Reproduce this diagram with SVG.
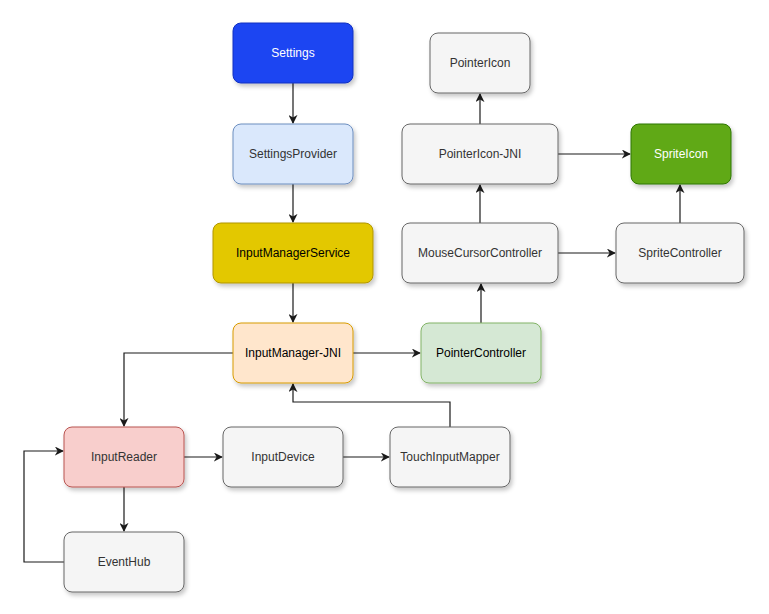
<svg xmlns="http://www.w3.org/2000/svg" width="769" height="614" viewBox="0 0 769 614">
<defs>
<filter id="sh" x="-20%" y="-20%" width="140%" height="150%">
<feDropShadow dx="2" dy="3" stdDeviation="2" flood-color="#000" flood-opacity="0.22"/>
</filter>
<marker id="arr" viewBox="0 0 10 10" refX="9" refY="5" markerWidth="9" markerHeight="9" markerUnits="userSpaceOnUse" orient="auto">
<path d="M0,0 L10,5 L0,10 L3,5 Z" fill="#1a1a1a"/>
</marker>
</defs>
<style>
rect{filter:url(#sh);stroke-width:1}
text{font-family:"Liberation Sans",Arial,Helvetica,sans-serif;font-size:12px;text-anchor:middle;dominant-baseline:central;fill:#333333}
.g rect{fill:#f5f5f5;stroke:#666666}
.c path{fill:none;stroke:#1a1a1a;stroke-width:1.2;marker-end:url(#arr)}
</style>
<rect width="769" height="614" fill="#ffffff" style="filter:none;stroke:none"/>
<g class="c" id="connectors">
<path d="M293,83 V123"/>
<path d="M293,184 V222"/>
<path d="M293,283 V322"/>
<path d="M353,353 H420"/>
<path d="M233,353 H124 V426"/>
<path d="M184,457 H222"/>
<path d="M343,457 H389"/>
<path d="M450,427 V402 H293 V384"/>
<path d="M124,487 V531"/>
<path d="M64,562 H24 V451 H63"/>
<path d="M481,323 V284"/>
<path d="M480,223 V185"/>
<path d="M480,124 V94"/>
<path d="M558,154 H630"/>
<path d="M558,253 H615"/>
<path d="M680,223 V185"/>
</g>
<g id="settings"><rect x="233" y="23" width="120" height="60" rx="8" fill="#1f45f2" stroke="#1030c0"/><text x="293" y="53" fill="#ffffff" style="fill:#ffffff">Settings</text></g>
<g id="settingsprovider"><rect x="233" y="124" width="120" height="60" rx="8" fill="#dae8fc" stroke="#6c8ebf"/><text x="293" y="154">SettingsProvider</text></g>
<g id="inputmanagerservice"><rect x="213" y="223" width="160" height="60" rx="8" fill="#e3c800" stroke="#b09500"/><text x="293" y="253" style="fill:#000000">InputManagerService</text></g>
<g id="inputmanager-jni"><rect x="233" y="323" width="120" height="60" rx="8" fill="#ffe6cc" stroke="#d79b00"/><text x="293" y="353" style="fill:#000000">InputManager-JNI</text></g>
<g id="pointercontroller"><rect x="421" y="323" width="120" height="60" rx="8" fill="#d5e8d4" stroke="#82b366"/><text x="481" y="353" style="fill:#000000">PointerController</text></g>
<g id="inputreader"><rect x="64" y="427" width="120" height="60" rx="8" fill="#f8cecc" stroke="#b85450"/><text x="124" y="457">InputReader</text></g>
<g id="inputdevice" class="g"><rect x="223" y="427" width="120" height="60" rx="8"/><text x="283" y="457">InputDevice</text></g>
<g id="touchinputmapper" class="g"><rect x="390" y="427" width="120" height="60" rx="8"/><text x="450" y="457">TouchInputMapper</text></g>
<g id="eventhub" class="g"><rect x="64" y="532" width="120" height="60" rx="8"/><text x="124" y="562">EventHub</text></g>
<g id="mousecursorcontroller" class="g"><rect x="402" y="223" width="156" height="60" rx="8"/><text x="480" y="253">MouseCursorController</text></g>
<g id="pointericon-jni" class="g"><rect x="402" y="124" width="156" height="60" rx="8"/><text x="480" y="154">PointerIcon-JNI</text></g>
<g id="pointericon" class="g"><rect x="430" y="33" width="100" height="60" rx="8"/><text x="480" y="63">PointerIcon</text></g>
<g id="spriteicon"><rect x="631" y="124" width="100" height="60" rx="8" fill="#60a917" stroke="#2d7600"/><text x="681" y="154" style="fill:#ffffff">SpriteIcon</text></g>
<g id="spritecontroller" class="g"><rect x="616" y="223" width="128" height="60" rx="8"/><text x="680" y="253">SpriteController</text></g>
</svg>
